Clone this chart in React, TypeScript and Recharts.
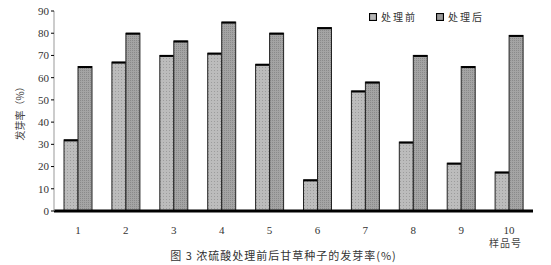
import { BarChart, Bar, XAxis, YAxis } from "recharts";

const samples = ["1", "2", "3", "4", "5", "6", "7", "8", "9", "10"];
const before = [32, 67, 70, 71, 66, 14, 54, 31, 21.5, 17.5];
const after = [65, 80, 76.5, 85, 80, 82.5, 58, 70, 65, 79];
const yTicks = [0, 10, 20, 30, 40, 50, 60, 70, 80, 90];
const boundaryTicks = [0, 1, 2, 3, 4, 5, 6, 7, 8, 9, 10];

const data = samples.map((name, i) => ({
  name,
  before: before[i],
  after: after[i],
}));

const serif = "'Liberation Serif', 'DejaVu Serif', serif";
const cjk = "'Noto Sans CJK SC', sans-serif";

const PatternBar = (props: any) => {
  const { x, y, width, height, fill } = props;
  if (!height || height <= 0) return null;
  return (
    <g>
      <rect x={x} y={y} width={width} height={height} fill={fill} stroke="#222" strokeWidth={1} />
      <line x1={x} x2={x + width} y1={y + 0.5} y2={y + 0.5} stroke="#000" strokeWidth={2} />
    </g>
  );
};

const LegendBox = () => (
  <div
    style={{
      position: "absolute",
      left: 369,
      top: 9,
      display: "flex",
      gap: 19,
      fontFamily: cjk,
      fontSize: 10,
      color: "#333",
      letterSpacing: 2,
    }}
  >
    {[
      { label: "处理前", color: "#b5b5b5" },
      { label: "处理后", color: "#9a9a9a" },
    ].map((it) => (
      <div key={it.label} style={{ display: "flex", alignItems: "center", gap: 4 }}>
        <svg width={8} height={8}>
          <rect x={0.5} y={0.5} width={7} height={7} fill={it.color} stroke="#000" strokeWidth={1.2} />
        </svg>
        <span>{it.label}</span>
      </div>
    ))}
  </div>
);

export default function App() {
  return (
    <div style={{ position: "absolute", left: 0, top: 0, width: 551, height: 265, background: "#fff" }}>
      <BarChart
        width={551}
        height={265}
        data={data}
        margin={{ top: 11, right: 18, bottom: 24, left: 0 }}
        barGap={0}
        barSize={14}
      >
        <defs>
          <pattern id="patBefore" width="3" height="3" patternUnits="userSpaceOnUse">
            <rect width="3" height="3" fill="#bcbcbc" />
            <rect x="1" y="1" width="1" height="1" fill="#9c9c9c" />
          </pattern>
          <pattern id="patAfter" width="2" height="2" patternUnits="userSpaceOnUse">
            <rect width="2" height="2" fill="#a4a4a4" />
            <rect x="0" y="0" width="1" height="1" fill="#8a8a8a" />
          </pattern>
        </defs>
        <XAxis
          dataKey="name"
          height={30}
          axisLine={{ stroke: "#000", strokeWidth: 3 }}
          tickLine={false}
          tick={{ fontFamily: serif, fontSize: 11, fill: "#333" }}
          tickMargin={9}
        />
        <XAxis
          xAxisId="b"
          type="number"
          domain={[0, 10]}
          ticks={boundaryTicks}
          axisLine={false}
          tick={false}
          tickLine={{ stroke: "#aaa" }}
          tickSize={4}
          height={0}
        />
        <YAxis
          domain={[0, 90]}
          ticks={yTicks}
          width={54}
          axisLine={{ stroke: "#999" }}
          tickLine={{ stroke: "#000" }}
          tickSize={3}
          tick={{ fontFamily: serif, fontSize: 11, fill: "#333" }}
          label={{
            value: "发芽率（%）",
            angle: -90,
            position: "insideLeft",
            offset: 20,
            style: { fontFamily: cjk, fontSize: 10, fill: "#444", textAnchor: "middle" },
          }}
        />
        <Bar dataKey="before" fill="url(#patBefore)" shape={PatternBar} isAnimationActive={false} />
        <Bar dataKey="after" fill="url(#patAfter)" shape={PatternBar} isAnimationActive={false} />
      </BarChart>
      <LegendBox />
      <div style={{ position: "absolute", left: 489, top: 235, fontFamily: cjk, fontSize: 10, color: "#444", letterSpacing: 1 }}>
        样品号
      </div>
      <div style={{ position: "absolute", left: 8, width: 551, top: 247, textAlign: "center", fontFamily: cjk, fontSize: 11, color: "#333", letterSpacing: 1 }}>
        图 3 浓硫酸处理前后甘草种子的发芽率(%)
      </div>
    </div>
  );
}
